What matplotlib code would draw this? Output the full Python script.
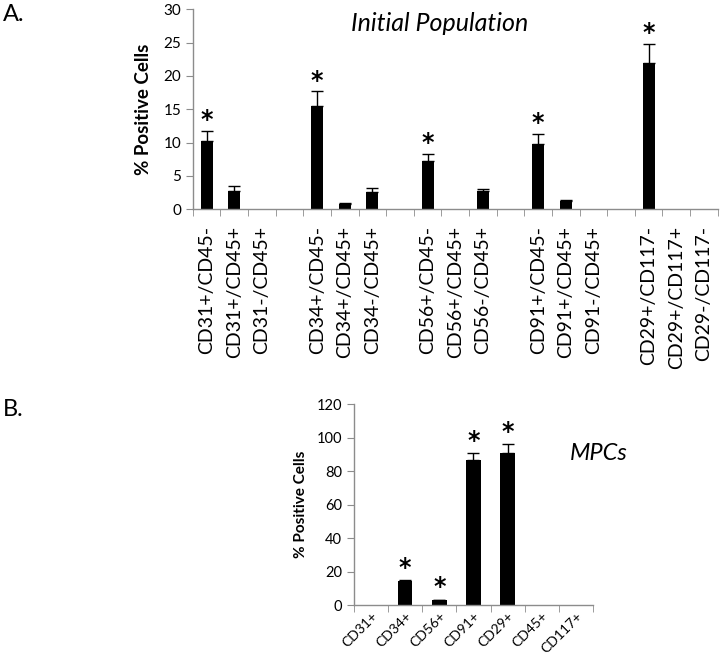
import numpy as np
import matplotlib.pyplot as plt

plt.rcParams['font.family'] = ['Lato', 'DejaVu Sans']

# panel A data (blank strings are the gaps between marker groups)
labels_a = ["CD31+/CD45-", "CD31+/CD45+", "CD31-/CD45+", "",
            "CD34+/CD45-", "CD34+/CD45+", "CD34-/CD45+", "",
            "CD56+/CD45-", "CD56+/CD45+", "CD56-/CD45+", "",
            "CD91+/CD45-", "CD91+/CD45+", "CD91-/CD45+", "",
            "CD29+/CD117-", "CD29+/CD117+", "CD29-/CD117-"]
values_a = [10.3, 2.75, 0, 0,
            15.5, 0.8, 2.55, 0,
            7.3, 0, 2.75, 0,
            9.8, 1.2, 0, 0,
            22.0, 0, 0]
errors_a = [1.5, 0.7, 0, 0,
            2.2, 0.15, 0.7, 0,
            1.05, 0, 0.35, 0,
            1.55, 0.25, 0, 0,
            2.85, 0, 0]
star_a = [1, 0, 0, 0, 1, 0, 0, 0, 1, 0, 0, 0, 1, 0, 0, 0, 1, 0, 0]

# panel B data
labels_b = ["CD31+", "CD34+", "CD56+", "CD91+", "CD29+", "CD45+", "CD117+"]
values_b = [0, 14.3, 3.0, 86.7, 91.2, 0, 0]
errors_b = [0, 0.4, 0.2, 4.0, 4.8, 0, 0]
star_b = [0, 1, 1, 1, 1, 0, 0]

GRAY = '#8c8c8c'


def style_axes(ax, n):
    for s in ['top', 'right']:
        ax.spines[s].set_visible(False)
    for s in ['left', 'bottom']:
        ax.spines[s].set_color(GRAY)
        ax.spines[s].set_linewidth(1.0)
    ax.set_xlim(-0.5, n - 0.5)
    ax.set_xticks(np.arange(n))
    ax.set_xticks(np.arange(n + 1) - 0.5, minor=True)
    ax.tick_params(axis='x', which='major', length=0)
    ax.tick_params(axis='x', which='minor', length=5, color=GRAY, direction='out')
    ax.tick_params(axis='y', length=5, color=GRAY, direction='out')


def draw_bars(ax, values, errors, stars, star_off):
    x = np.arange(len(values))
    lower = np.zeros(len(values))
    ax.bar(x, values, width=0.43, color='black', zorder=2)
    has_err = np.array(errors) > 0
    ax.errorbar(x[has_err], np.array(values)[has_err],
                yerr=[lower[has_err], np.array(errors)[has_err]],
                fmt='none', ecolor='black', elinewidth=1, capsize=4, capthick=1)
    for xi, v, e, s in zip(x, values, errors, stars):
        if s:
            ax.text(xi, v + e + star_off, '*', ha='center', va='center',
                    fontsize=17, fontweight='bold', family='DejaVu Sans')


fig = plt.figure(figsize=(7.25, 6.58), dpi=100)

# ---- panel A ----
ax1 = fig.add_axes([0.266, 0.682, 0.724, 0.304])
draw_bars(ax1, values_a, errors_a, star_a, 1.6)
style_axes(ax1, len(labels_a))
ax1.set_ylim(0, 30)
ax1.set_yticks(range(0, 31, 5))
ax1.set_xticklabels(labels_a, rotation=90, fontsize=14)
ax1.tick_params(axis='x', which='major', pad=12)
ax1.tick_params(axis='y', labelsize=11)
ax1.set_ylabel('% Positive Cells', fontsize=13.5, fontweight='bold', labelpad=8)
ax1.text(0.47, 0.93, 'Initial Population', transform=ax1.transAxes,
         ha='center', va='center', fontsize=18, style='italic')

# ---- panel B ----
ax2 = fig.add_axes([0.488, 0.0805, 0.330, 0.305])
draw_bars(ax2, values_b, errors_b, star_b, 7.5)
style_axes(ax2, len(labels_b))
ax2.set_ylim(0, 120)
ax2.set_yticks(range(0, 121, 20))
ax2.set_xticklabels(labels_b, rotation=45, ha='right', rotation_mode='anchor',
                    fontsize=10)
ax2.tick_params(axis='y', labelsize=10.5)
ax2.set_ylabel('% Positive Cells', fontsize=11, fontweight='bold', labelpad=6)
ax2.text(1.146, 0.757, 'MPCs', transform=ax2.transAxes,
         ha='right', va='center', fontsize=17, style='italic')

fig.text(0.004, 0.978, 'A.', fontsize=17, va='center')
fig.text(0.004, 0.378, 'B.', fontsize=17, va='center')

fig.savefig('out.png', dpi=100)
